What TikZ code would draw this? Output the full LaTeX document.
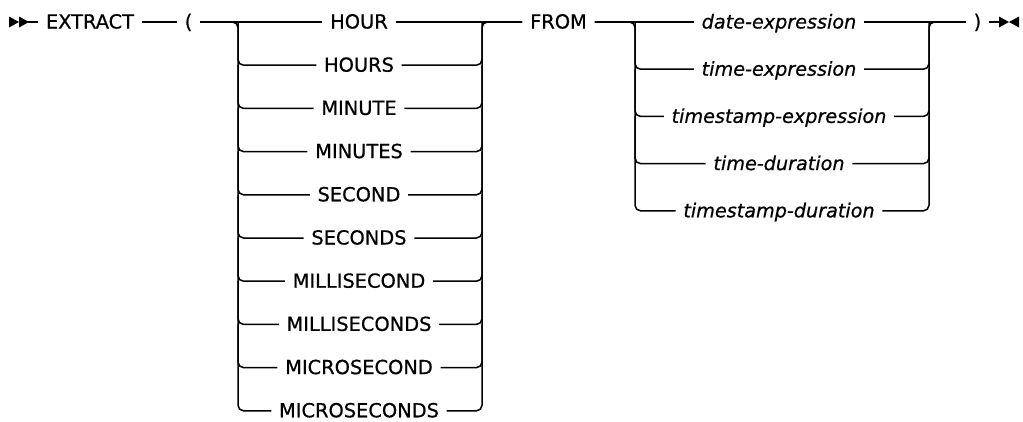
\documentclass[tikz,border=0pt]{standalone}
\usepackage{fontspec}
\setmainfont{DejaVu Sans}[FakeBold=0.6]
\begin{document}
\begin{tikzpicture}[x=1pt,y=-1pt,line width=1.5pt,
  kw/.style={inner xsep=7pt,inner ysep=0pt,text height=13pt,text depth=0pt,font=\fontsize{19.4}{23}\selectfont},
  var/.style={kw,font=\fontsize{19.2}{23}\selectfont\itshape},
  jn/.style={rounded corners=5.5pt}]
\useasboundingbox (0,0) rectangle (1023,421);
% start symbol
\fill (9,16.5) -- (19,22) -- (9,27.5) -- cycle;
\fill (19,16.5) -- (29,22) -- (19,27.5) -- cycle;
\coordinate (s) at (28,22);
\node[kw] (extract) at (90,22) {EXTRACT};
\node[kw] (lp) at (188.5,22) {(};
\node[kw] (from) at (558.5,22) {FROM};
\node[kw] (rp) at (977.5,22) {)};
\coordinate (e) at (1000,22);
\fill (999,16.5) -- (1009,22) -- (999,27.5) -- cycle;
\fill (1019,16.5) -- (1009,22) -- (1019,27.5) -- cycle;
\draw (s) -- (extract);
\draw (extract) -- (lp);
\draw (rp) -- (e);
% group 1
\foreach \t [count=\i from 0] in {HOUR,HOURS,MINUTE,MINUTES,SECOND,SECONDS,MILLISECOND,MILLISECONDS,MICROSECOND,MICROSECONDS} {
  \coordinate (a\i) at (238,{22+43.2*\i});
  \coordinate (b\i) at (482,{22+43.2*\i});
  \node[kw] (k\i) at (359,{22+43.2*\i}) {\t};
}
\draw (lp) -- (k0);
\draw (k0) -- (from);
\draw[jn] (lp.east) -- (a0) -- (a9) -- (k9.west);
\draw[jn] (k9.east) -- (b9) -- (b0) -- (from.west);
\foreach \i in {1,...,8} {
  \pgfmathtruncatemacro\j{\i-1}
  \draw[jn] (a\j) -- (a\i) -- (k\i.west);
  \draw[jn] (k\i.east) -- (b\i) -- (b\j);
}
% group 2
\foreach \t [count=\i from 0] in {date-expression,time-expression,timestamp-expression,time-duration,timestamp-duration} {
  \coordinate (c\i) at (635,{22+47.2*\i});
  \coordinate (d\i) at (929,{22+47.2*\i});
  \node[var] (v\i) at (779,{22+47.2*\i}) {\t};
}
\draw (from) -- (v0);
\draw (v0) -- (rp);
\draw[jn] (from.east) -- (c0) -- (c4) -- (v4.west);
\draw[jn] (v4.east) -- (d4) -- (d0) -- (rp.west);
\foreach \i in {1,...,3} {
  \pgfmathtruncatemacro\j{\i-1}
  \draw[jn] (c\j) -- (c\i) -- (v\i.west);
  \draw[jn] (v\i.east) -- (d\i) -- (d\j);
}
\end{tikzpicture}
\end{document}
